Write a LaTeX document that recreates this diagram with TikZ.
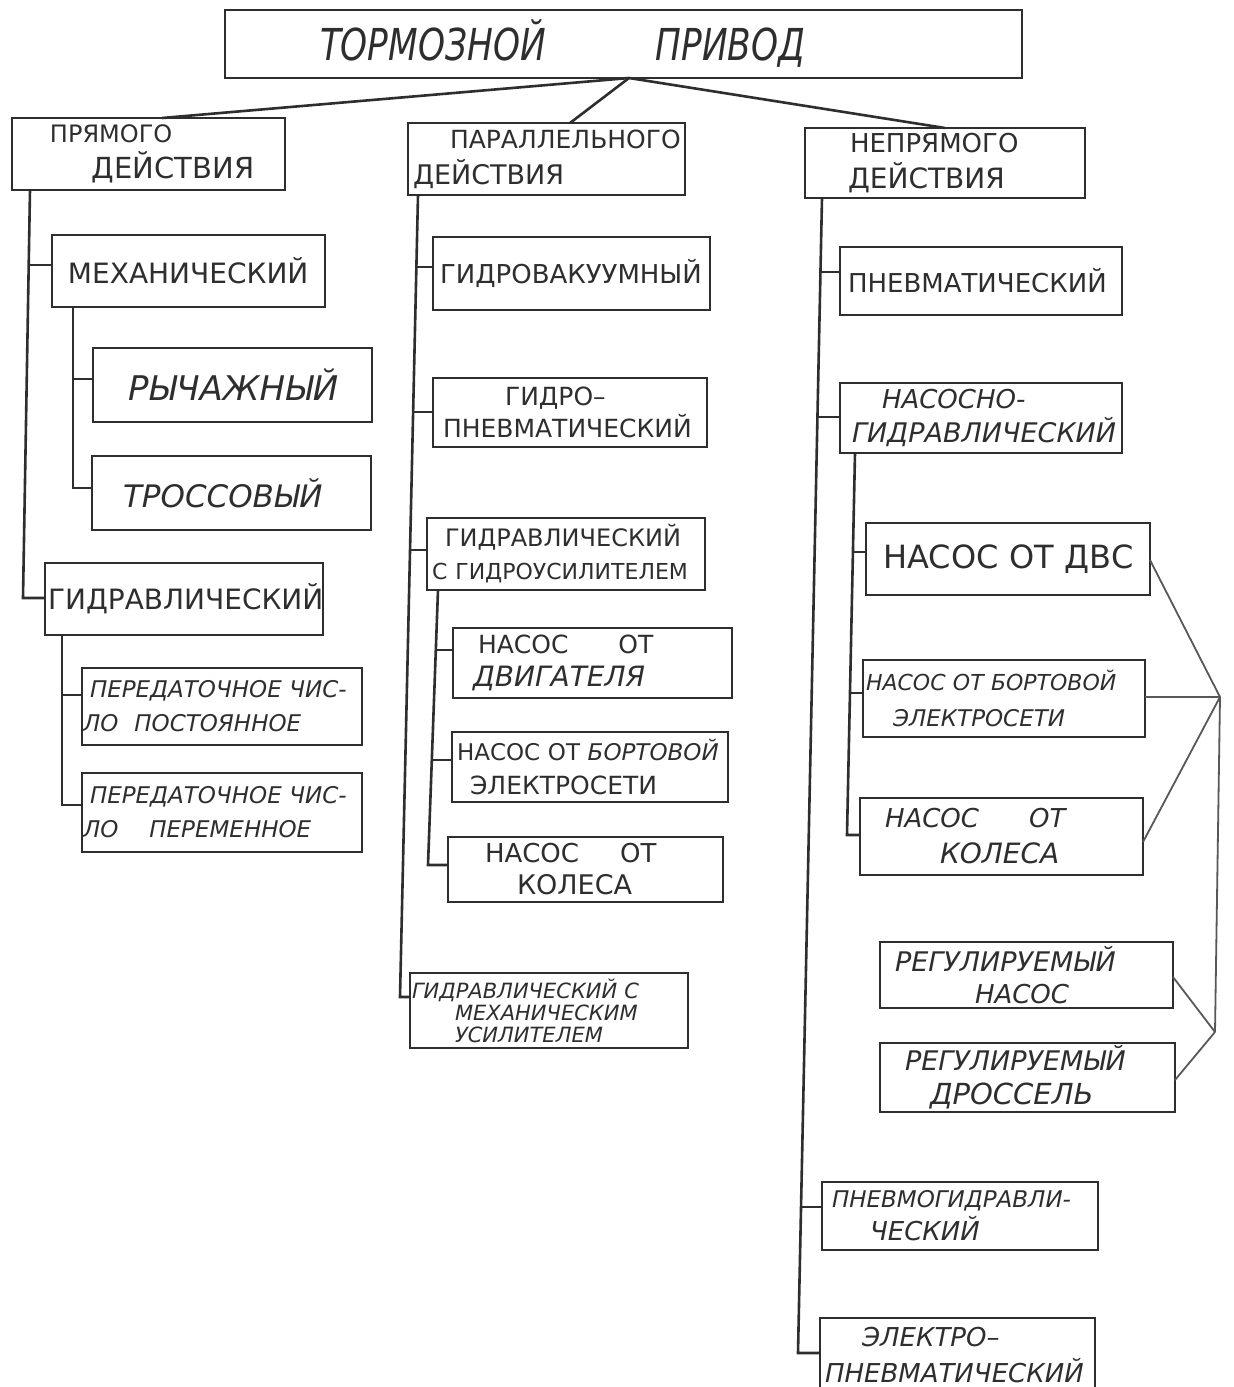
\documentclass[tikz,border=0pt]{standalone}
\usepackage{fontspec}
\usepackage{graphicx}
\setmainfont{DejaVu Sans}
\newcommand\fs[2]{\fontsize{#1pt}{#2pt}\selectfont}
\definecolor{ink}{HTML}{2E2E2E}
\begin{document}
\begin{tikzpicture}[x=1pt,y=-1pt,
  box/.style={draw=ink, line width=2.6pt, inner sep=0pt, outer sep=0pt, align=left, text=ink, anchor=north west},
  conn/.style={draw=ink, line width=2.6pt},
  thinconn/.style={draw=ink!80, line width=1.8pt}]
\useasboundingbox (0,0) rectangle (1234,1387);
\fill[white] (0,0) rectangle (1234,1387);

% top
\node[box, text width=797pt, minimum height=68pt] (top) at (225,10)
  {\hspace*{95pt}\fs{44}{44}\itshape\scalebox{0.78}[1]{ТОРМОЗНОЙ}\hspace{110pt}\scalebox{0.78}[1]{ПРИВОД}};

% level 1
\node[box, text width=273pt, minimum height=72pt, font=\fs{24}{36}] (pd) at (12,118)
  {\hspace*{38pt}ПРЯМОГО\\\hspace*{80pt}{\fs{29}{36}ДЕЙСТВИЯ}};
\node[box, text width=277pt, minimum height=72pt, font=\fs{25}{36}] (par) at (408,123)
  {\hspace*{42pt}ПАРАЛЛЕЛЬНОГО\\\hspace*{5pt}{\fs{27}{36}ДЕЙСТВИЯ}};
\node[box, text width=280pt, minimum height=70pt, font=\fs{26}{36}] (nep) at (805,128)
  {\hspace*{45pt}НЕПРЯМОГО\\\hspace*{43pt}{\fs{28}{36}ДЕЙСТВИЯ}};

% left column
\node[box, text width=273pt, minimum height=72pt, font=\fs{28}{32}] (mech) at (52,235)
  {\hspace*{16pt}МЕХАНИЧЕСКИЙ};
\node[box, text width=279pt, minimum height=74pt, font=\fs{34}{38}] (rych) at (93,348)
  {\hspace*{35pt}\itshape РЫЧАЖНЫЙ};
\node[box, text width=279pt, minimum height=74pt, font=\fs{31}{36}] (tros) at (92,456)
  {\hspace*{31pt}\itshape ТРОССОВЫЙ};
\node[box, text width=278pt, minimum height=72pt, font=\fs{28}{32}] (gidr) at (45,563)
  {\hspace*{3pt}ГИДРАВЛИЧЕСКИЙ};
\node[box, text width=280pt, minimum height=77pt, font=\fs{23}{34}\itshape] (post) at (82,668)
  {\hspace*{8pt}ПЕРЕДАТОЧНОЕ ЧИС-\\\hspace*{1pt}ЛО\hspace{16pt}ПОСТОЯННОЕ};
\node[box, text width=280pt, minimum height=79pt, font=\fs{23}{34}\itshape] (perem) at (82,773)
  {\hspace*{8pt}ПЕРЕДАТОЧНОЕ ЧИС-\\\hspace*{1pt}ЛО\hspace{31pt}ПЕРЕМЕННОЕ};

% middle column
\node[box, text width=277pt, minimum height=73pt, font=\fs{26}{30}] (gvak) at (433,237)
  {\hspace*{7pt}ГИДРОВАКУУМНЫЙ};
\node[box, text width=274pt, minimum height=69pt, font=\fs{25}{32}] (gpn) at (433,378)
  {\hspace*{72pt}ГИДРО–\\\hspace*{10pt}ПНЕВМАТИЧЕСКИЙ};
\node[box, text width=278pt, minimum height=72pt, font=\fs{24}{33}] (gus) at (427,518)
  {\hspace*{18pt}ГИДРАВЛИЧЕСКИЙ\\\hspace*{5pt}{\fs{22}{33}С ГИДРОУСИЛИТЕЛЕМ}};
\node[box, text width=279pt, minimum height=70pt, font=\fs{25}{33}] (ndv) at (453,628)
  {\hspace*{25pt}НАСОС\hspace{50pt}ОТ\\\hspace*{20pt}{\fs{28}{33}\itshape ДВИГАТЕЛЯ}};
\node[box, text width=276pt, minimum height=70pt, font=\fs{23}{34}] (nbort) at (452,732)
  {\hspace*{5pt}НАСОС ОТ {\itshape БОРТОВОЙ}\\\hspace*{18pt}{\fs{25}{34}ЭЛЕКТРОСЕТИ}};
\node[box, text width=275pt, minimum height=65pt, font=\fs{26}{32}] (nkol) at (448,837)
  {\hspace*{37pt}НАСОС\hspace{41pt}ОТ\\\hspace*{69pt}{\fs{27}{32}КОЛЕСА}};
\node[box, text width=278pt, minimum height=75pt, font=\fs{21}{22}\itshape] (gmech) at (410,973)
  {\hspace*{2pt}ГИДРАВЛИЧЕСКИЙ С\\\hspace*{45pt}МЕХАНИЧЕСКИМ\\\hspace*{45pt}УСИЛИТЕЛЕМ};

% right column
\node[box, text width=282pt, minimum height=68pt, font=\fs{26}{30}] (pnev) at (840,247)
  {\hspace*{8pt}ПНЕВМАТИЧЕСКИЙ};
\node[box, text width=282pt, minimum height=70pt, font=\fs{26}{34}\itshape] (nasg) at (840,383)
  {\hspace*{42pt}НАСОСНО-\\\hspace*{12pt}{\fs{27}{34}ГИДРАВЛИЧЕСКИЙ}};
\node[box, text width=284pt, minimum height=72pt, font=\fs{32}{36}] (dvs) at (866,523)
  {\hspace*{17pt}НАСОС ОТ ДВС};
\node[box, text width=282pt, minimum height=77pt, font=\fs{22}{36}\itshape] (rbort) at (863,660)
  {\hspace*{3pt}НАСОС ОТ БОРТОВОЙ\\\hspace*{30pt}{\fs{23}{36}ЭЛЕКТРОСЕТИ}};
\node[box, text width=283pt, minimum height=77pt, font=\fs{26}{36}\itshape] (rkol) at (860,798)
  {\hspace*{25pt}НАСОС\hspace{50pt}ОТ\\\hspace*{80pt}{\fs{28}{36}КОЛЕСА}};
\node[box, text width=293pt, minimum height=66pt, font=\fs{27}{32}\itshape] (rnas) at (880,942)
  {\hspace*{15pt}РЕГУЛИРУЕМЫЙ\\\hspace*{95pt}{\fs{26}{32}НАСОС}};
\node[box, text width=295pt, minimum height=69pt, font=\fs{27}{34}\itshape] (rdros) at (880,1043)
  {\hspace*{25pt}РЕГУЛИРУЕМЫЙ\\\hspace*{50pt}{\fs{29}{34}ДРОССЕЛЬ}};
\node[box, text width=276pt, minimum height=68pt, font=\fs{23}{33}\itshape] (pgidr) at (822,1182)
  {\hspace*{10pt}ПНЕВМОГИДРАВЛИ-\\\hspace*{48pt}{\fs{26}{33}ЧЕСКИЙ}};
\node[box, text width=275pt, minimum height=74pt, font=\fs{26}{36}\itshape] (epn) at (820,1318)
  {\hspace*{42pt}ЭЛЕКТРО–\\\hspace*{5pt}ПНЕВМАТИЧЕСКИЙ};

% connectors from the top box
\draw[conn] (top.south -| 629,0) -- (pd.north -| 162,0);
\draw[conn] (top.south -| 629,0) -- (par.north -| 570,0);
\draw[conn] (top.south -| 629,0) -- (nep.north -| 945,0);

% left column
\draw[conn] (pd.south -| 30,0) -- (23,598) -- (gidr.west |- 0,598);
\draw[conn] (29,265) -- (mech.west |- 0,265);
\draw[conn] (mech.south -| 73,0) -- (73,488) -- (tros.west |- 0,488);
\draw[conn] (73,379) -- (rych.west |- 0,379);
\draw[conn] (gidr.south -| 62,0) -- (62,805) -- (perem.west |- 0,805);
\draw[conn] (62,695) -- (post.west |- 0,695);

% middle column
\draw[conn] (par.south -| 418,0) -- (400,997) -- (gmech.west |- 0,997);
\draw[conn] (416,267) -- (gvak.west |- 0,267);
\draw[conn] (413,412) -- (gpn.west |- 0,412);
\draw[conn] (410,550) -- (gus.west |- 0,550);
\draw[conn] (gus.south -| 438,0) -- (428,865) -- (nkol.west |- 0,865);
\draw[conn] (436,650) -- (ndv.west |- 0,650);
\draw[conn] (432,760) -- (nbort.west |- 0,760);

% right column
\draw[conn] (nep.south -| 822,0) -- (798,1353) -- (epn.west |- 0,1353);
\draw[conn] (820.5,272) -- (pnev.west |- 0,272);
\draw[conn] (817.5,417) -- (nasg.west |- 0,417);
\draw[conn] (801,1207) -- (pgidr.west |- 0,1207);
\draw[conn] (nasg.south -| 855,0) -- (847,835) -- (rkol.west |- 0,835);
\draw[conn] (853,552) -- (dvs.west |- 0,552);
\draw[conn] (851,693) -- (rbort.west |- 0,693);

% bracket on the right
\coordinate (j1) at (1220,697);
\coordinate (j2) at (1215,1032);
\draw[thinconn] (dvs.east |- 0,560) -- (j1);
\draw[thinconn] (rbort.east |- 0,697) -- (j1);
\draw[thinconn] (rkol.east |- 0,842) -- (j1);
\draw[thinconn] (j1) -- (j2);
\draw[thinconn] (rnas.east |- 0,977) -- (j2);
\draw[thinconn] (rdros.east |- 0,1080) -- (j2);
\end{tikzpicture}
\end{document}
